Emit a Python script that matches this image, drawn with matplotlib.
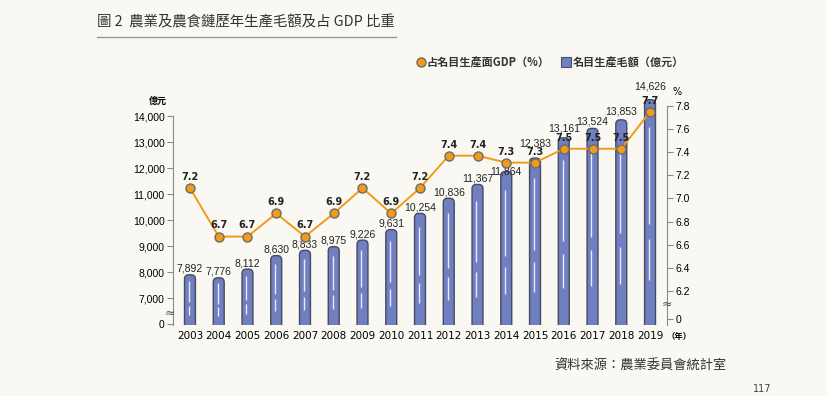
import numpy as np
import matplotlib.pyplot as plt
from matplotlib.patches import FancyBboxPatch

plt.rcParams['font.family'] = ['Noto Sans CJK TC', 'DejaVu Sans']

# data
years = list(range(2003, 2020))
gdp_value = [7892, 7776, 8112, 8630, 8833, 8975, 9226, 9631, 10254,
             10836, 11367, 11864, 12383, 13161, 13524, 13853, 14626]
# share of GDP as printed, and where the chart actually draws the points
share_label = [7.2, 6.7, 6.7, 6.9, 6.7, 6.9, 7.2, 6.9, 7.2,
               7.4, 7.4, 7.3, 7.3, 7.5, 7.5, 7.5, 7.7]
share_drawn = [7.09, 6.67, 6.67, 6.87, 6.67, 6.87, 7.09, 6.87, 7.09,
               7.37, 7.37, 7.31, 7.31, 7.43, 7.43, 7.43, 7.75]
left_ticks = [6000, 7000, 8000, 9000, 10000, 11000, 12000, 13000, 14000]
left_ticklabels = ['0', '7,000', '8,000', '9,000', '10,000', '11,000',
                   '12,000', '13,000', '14,000']
right_ticks = [5.96, 6.2, 6.4, 6.6, 6.8, 7.0, 7.2, 7.4, 7.6, 7.8]
right_ticklabels = ['0', '6.2', '6.4', '6.6', '6.8', '7.0', '7.2', '7.4', '7.6', '7.8']

BG = '#faf8f2'
BAR = '#6f7fc2'
ORANGE = '#f29a1a'
GREY = '#8a8a8a'
NARROW = ['Liberation Sans Narrow', 'Liberation Sans', 'DejaVu Sans']

fig = plt.figure(figsize=(8.27, 3.96), dpi=100, facecolor=BG)
W, H = 827, 396


def fx(px):
    return px / W


def fy(py):
    return 1 - py / H


ax = fig.add_axes([fx(173), fy(325), fx(667) - fx(173), fy(95) - fy(325)])
ax.set_facecolor('none')
ax.set_xlim(2002.41, 2019.59)
ax.set_ylim(5962, 14808)

# bars with rounded tops
px_x = (667 - 173) / (2019.59 - 2002.41)
px_y = 230 / (14808 - 5962)
bw = 0.38
for yr, v in zip(years, gdp_value):
    p = FancyBboxPatch((yr - bw / 2, 5000), bw, v - 5000,
                       boxstyle='round,pad=0,rounding_size=0.15',
                       mutation_aspect=px_x / px_y,
                       fc=BAR, ec='#474b5e', lw=1.0, zorder=2)
    ax.add_patch(p)
    # white highlight strokes
    h = v - 5962
    ax.plot([yr - 0.04, yr - 0.04], [v - h * 0.12, 5962 + h * 0.45],
            color='white', lw=1.0, alpha=0.85, zorder=3, solid_capstyle='butt')
    ax.plot([yr - 0.04, yr - 0.04], [5962 + h * 0.38, 5962 + h * 0.2],
            color='white', lw=1.0, alpha=0.85, zorder=3, solid_capstyle='butt')

bar_pad = [6] * 11 + [0.5, 15, 9, 7, 8, 13]
for yr, v, pad in zip(years, gdp_value, bar_pad):
    ax.annotate(f'{v:,}', (yr, v), xytext=(0, pad * 0.72), textcoords='offset points',
                ha='center', va='center', fontsize=7.5, family=NARROW, color='#222', zorder=6)

ax.set_xticks(years)
ax.set_xticklabels([str(y) for y in years], fontsize=7.5, family=['DejaVu Sans'])
ax.set_yticks(left_ticks)
ax.set_yticklabels(left_ticklabels, fontsize=7.5, family=NARROW)
ax.tick_params(axis='x', length=0, pad=4)
ax.tick_params(axis='y', length=4, color=GREY, pad=2, direction='out')
for s in ['top', 'right', 'bottom']:
    ax.spines[s].set_visible(False)
ax.spines['left'].set_color(GREY)
ax.spines['left'].set_bounds(5962, 14000)

ax2 = ax.twinx()
ax2.set_ylim(5.905, 7.895)
ax2.plot(years, share_drawn, color=ORANGE, lw=1.4, marker='o', ms=6.5,
         mfc=ORANGE, mec='#6b6b6b', mew=1.0, zorder=5)
for yr, v, lab in zip(years, share_drawn, share_label):
    ax2.annotate(f'{lab:.1f}', (yr, v), xytext=(0, 8), textcoords='offset points',
                 ha='center', va='center', fontsize=7, fontweight='bold',
                 family=['DejaVu Sans'], color='#222', zorder=6)
ax2.set_yticks(right_ticks)
ax2.set_yticklabels(right_ticklabels, fontsize=7.5, family=NARROW)
ax2.tick_params(axis='y', length=4, color=GREY, pad=2, direction='out')
for s in ['top', 'left', 'bottom']:
    ax2.spines[s].set_visible(False)
ax2.spines['right'].set_color(GREY)
ax2.spines['right'].set_bounds(5.905, 7.8)

# axis break marks and units
fig.text(fx(170), fy(313), '≈', fontsize=9, color='#555', ha='center', va='center',
         family=['DejaVu Sans'])
fig.text(fx(667), fy(304), '≈', fontsize=9, color='#555', ha='center', va='center',
         family=['DejaVu Sans'])
fig.text(fx(158), fy(101), '億元', fontsize=6.5, fontweight='bold', ha='center', va='center')
fig.text(fx(677), fy(92), '%', fontsize=7, ha='center', va='center', family=['DejaVu Sans'])
fig.text(fx(679), fy(337), '（年）', fontsize=6, fontweight='bold', ha='center', va='center')

# title
fig.text(fx(97), fy(22), '圖 2  農業及農食鏈歷年生產毛額及占 GDP 比重', fontsize=10.4,
         color='#333', ha='left', va='center')
fig.add_artist(plt.Line2D([fx(97), fx(396)], [fy(37), fy(37)], color='#999', lw=1))

# legend
fig.add_artist(plt.Line2D([fx(421)], [fy(62)], marker='o', ms=6.5, mfc=ORANGE,
                          mec='#6b6b6b', mew=1.0, ls='none'))
fig.text(fx(427), fy(62), '占名目生產面GDP（%）', fontsize=8, fontweight='bold',
         color='#333', ha='left', va='center')
fig.add_artist(plt.Line2D([fx(566)], [fy(62)], marker='s', ms=6.5, mfc=BAR,
                          mec='#4a4f66', mew=0.8, ls='none'))
fig.text(fx(573), fy(62), '名目生產毛額（億元）', fontsize=8, fontweight='bold',
         color='#333', ha='left', va='center')

# source and page number
fig.text(fx(727), fy(366), '資料來源：農業委員會統計室', fontsize=9.5, color='#333',
         ha='right', va='center')
fig.text(fx(762), fy(389), '117', fontsize=7, color='#444', ha='center', va='center',
         family=['DejaVu Sans'])

fig.savefig('out.png', dpi=100, facecolor=BG)
